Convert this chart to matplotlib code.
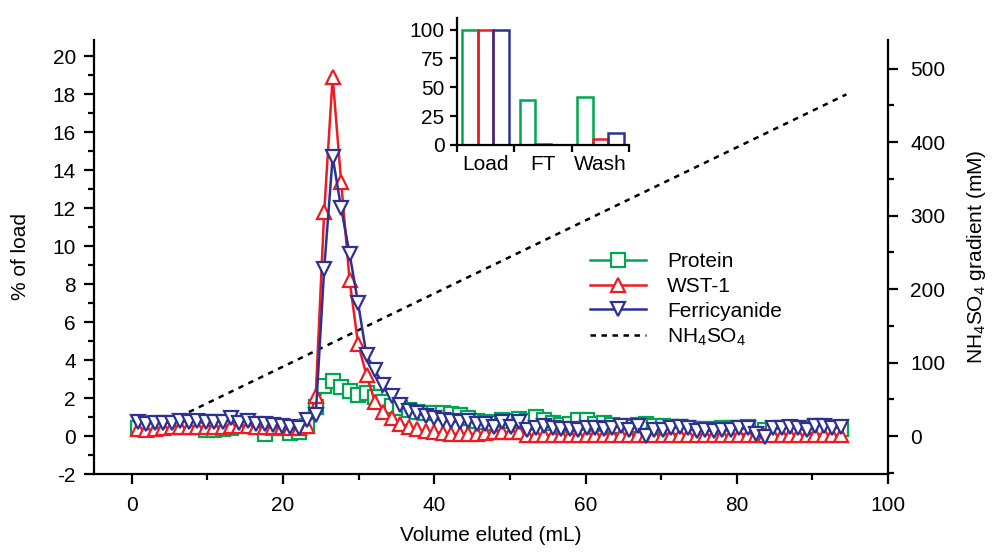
import matplotlib
matplotlib.use("Agg")
import matplotlib.pyplot as plt
from matplotlib.ticker import MultipleLocator

plt.rcParams['font.family'] = ['Liberation Sans', 'DejaVu Sans']
plt.rcParams['mathtext.fontset'] = 'custom'
plt.rcParams['mathtext.rm'] = 'Liberation Sans'
plt.rcParams['mathtext.it'] = 'Liberation Sans:italic'
plt.rcParams['font.size'] = 15
plt.rcParams['axes.unicode_minus'] = False

# fraction volumes (mL)
volume = [0.8, 1.92, 3.04, 4.16, 5.28, 6.4, 7.52, 8.64, 9.76, 10.88,
          12.0, 13.12, 14.24, 15.36, 16.48, 17.6, 18.72, 19.84, 20.96, 22.08,
          23.2, 24.32, 25.44, 26.56, 27.68, 28.8, 29.92, 31.04, 32.16, 33.28,
          34.4, 35.52, 36.64, 37.76, 38.88, 40.0, 41.12, 42.24, 43.36, 44.48,
          45.6, 46.72, 47.84, 48.96, 50.08, 51.2, 52.32, 53.44, 54.56, 55.68,
          56.8, 57.92, 59.04, 60.16, 61.28, 62.4, 63.52, 64.64, 65.76, 66.88,
          68.0, 69.12, 70.24, 71.36, 72.48, 73.6, 74.72, 75.84, 76.96, 78.08,
          79.2, 80.32, 81.44, 82.56, 83.68, 84.8, 85.92, 87.04, 88.16, 89.28,
          90.4, 91.52, 92.64, 93.76]

protein = [0.40, 0.35, 0.45, 0.50, 0.50, 0.50, 0.45, 0.45, 0.30, 0.30,
           0.35, 0.40, 0.65, 0.60, 0.45, 0.10, 0.40, 0.40, 0.15, 0.20,
           0.55, 1.55, 2.65, 2.90, 2.60, 2.35, 2.15, 2.25, 2.05, 1.80,
           1.60, 1.45, 1.35, 1.25, 1.20, 1.20, 1.20, 1.15, 1.10, 0.95,
           0.80, 0.75, 0.70, 0.85, 0.80, 0.90, 0.80, 1.00, 0.85, 0.70,
           0.60, 0.65, 0.85, 0.85, 0.65, 0.70, 0.60, 0.55, 0.50, 0.60,
           0.65, 0.55, 0.55, 0.50, 0.50, 0.40, 0.35, 0.35, 0.35, 0.40,
           0.40, 0.40, 0.45, 0.10, 0.30, 0.35, 0.40, 0.40, 0.35, 0.40,
           0.55, 0.45, 0.35, 0.35]

wst1 = [0.35, 0.30, 0.35, 0.40, 0.45, 0.45, 0.45, 0.45, 0.50, 0.50,
        0.50, 0.55, 0.55, 0.55, 0.50, 0.50, 0.50, 0.45, 0.40, 0.40,
        0.55, 2.10, 11.8, 18.9, 13.4, 8.20, 4.85, 3.20, 1.80, 1.25,
        0.95, 0.65, 0.50, 0.35, 0.25, 0.20, 0.15, 0.10, 0.10, 0.10,
        0.10, 0.15, 0.20, 0.20, 0.20, 0.20, 0.05, 0.05, 0.05, 0.05,
        0.05, 0.05, 0.05, 0.05, 0.05, 0.05, 0.05, 0.05, 0.05, 0.05,
        0.05, 0.05, 0.05, 0.05, 0.05, 0.05, 0.05, 0.05, 0.05, 0.05,
        0.05, 0.05, 0.05, 0.05, 0.05, 0.05, 0.05, 0.05, 0.05, 0.05,
        0.05, 0.05, 0.05, 0.05]

ferricyanide = [0.75, 0.65, 0.70, 0.70, 0.70, 0.80, 0.75, 0.80, 0.75, 0.75,
                0.75, 0.95, 0.70, 0.80, 0.65, 0.65, 0.60, 0.55, 0.45, 0.40,
                0.85, 1.10, 8.80, 14.7, 12.0, 9.60, 7.00, 4.25, 3.45, 2.70,
                2.10, 1.65, 1.30, 1.20, 1.05, 0.95, 0.85, 0.80, 0.75, 0.80,
                0.65, 0.65, 0.50, 0.75, 0.50, 0.75, 0.30, 0.40, 0.55, 0.40,
                0.35, 0.35, 0.30, 0.40, 0.40, 0.35, 0.40, 0.55, 0.30, 0.55,
                0.00, 0.30, 0.30, 0.40, 0.50, 0.40, 0.25, 0.30, 0.25, 0.30,
                0.30, 0.40, 0.40, 0.10, -0.05, 0.40, 0.40, 0.50, 0.40, 0.30,
                0.55, 0.55, 0.40, 0.50]

gradient_x = [1.0, 94.5]
gradient_mM = [0.0, 465.0]

# inset bars
inset_groups = ["Load", "FT", "Wash"]
inset_protein = [100, 39, 42]
inset_wst1 = [100, 0.5, 5]
inset_ferri = [100, 0.3, 10]

green = '#00a651'
red = '#ed1c24'
blue = '#2e3192'

fig = plt.figure(figsize=(9.92, 5.52), dpi=100)
ax = fig.add_axes([94 / 992, 1 - 474 / 552, 794 / 992, 434 / 552])
ax2 = ax.twinx()
ax.set_zorder(ax2.get_zorder() + 1)
ax.patch.set_visible(False)

mk = dict(markersize=9.5, markerfacecolor='white', markeredgewidth=1.6, linewidth=1.8)
l1, = ax.plot(volume, protein, color=green, marker='s', label='Protein', **mk)
l2, = ax.plot(volume, wst1, color=red, marker='^', label='WST-1', **mk)
l3, = ax.plot(volume, ferricyanide, color=blue, marker='v', label='Ferricyanide', **mk)
l4, = ax2.plot(gradient_x, gradient_mM, color='black', linestyle=(0, (2.2, 2.2)),
               linewidth=1.8, label=r'NH$_4$SO$_4$')

ax.set_xlim(-5, 100)
ax.set_ylim(-2, 20.85)
ax2.set_ylim(-51.7, 539)

ax.xaxis.set_major_locator(MultipleLocator(20))
ax.xaxis.set_minor_locator(MultipleLocator(10))
ax.yaxis.set_major_locator(MultipleLocator(2))
ax.yaxis.set_minor_locator(MultipleLocator(1))
ax2.yaxis.set_major_locator(MultipleLocator(100))
ax2.yaxis.set_minor_locator(MultipleLocator(50))
ax2.set_yticks([0, 100, 200, 300, 400, 500])

for a in (ax, ax2):
    a.spines['top'].set_visible(False)
    for s in a.spines.values():
        s.set_linewidth(1.6)
    a.tick_params(which='major', direction='out', length=7, width=1.6, pad=6)
    a.tick_params(which='minor', direction='out', length=4, width=1.6)
ax.spines['right'].set_visible(False)
ax2.spines['left'].set_visible(False)
ax2.spines['bottom'].set_visible(False)
ax.tick_params(axis='x', pad=9)
ax2.tick_params(axis='y', pad=9)

ax.set_xlabel('Volume eluted (mL)', labelpad=8)
ax.set_ylabel('% of load', labelpad=16)
ax2.set_ylabel(r'NH$_4$SO$_4$ gradient (mM)', labelpad=14)

fig.legend(handles=[l1, l2, l3, l4], loc='center left',
           bbox_to_anchor=(590 / 992, 1 - 300 / 552), frameon=False,
           borderpad=0, borderaxespad=0, handlelength=2.7, handletextpad=1.0,
           labelspacing=0.28)

# inset
axi = fig.add_axes([457 / 992, 1 - 145 / 552, 172 / 992, 127 / 552])
pos = list(range(len(inset_groups)))
w = 0.27
for off, vals, c in ((-w, inset_protein, green), (0, inset_wst1, red), (w, inset_ferri, blue)):
    axi.bar([p + off for p in pos], vals, width=w, facecolor='none', edgecolor=c, linewidth=1.8)
axi.set_xlim(-0.5, 2.5)
axi.set_ylim(0, 110)
axi.set_yticks([0, 25, 50, 75, 100])
axi.set_xticks([-0.5, 0.5, 1.5, 2.5])
axi.set_xticklabels([])
axi.set_xticks(pos, minor=True)
axi.set_xticklabels(inset_groups, minor=True)
axi.tick_params(axis='x', which='minor', length=0, pad=7)
axi.tick_params(axis='x', which='major', direction='out', length=5, width=1.6)
axi.tick_params(axis='y', direction='out', length=5, width=1.6, pad=4)
axi.spines['top'].set_visible(False)
axi.spines['right'].set_visible(False)
for s in ('left', 'bottom'):
    axi.spines[s].set_linewidth(1.6)

fig.savefig('out.png', dpi=100)
